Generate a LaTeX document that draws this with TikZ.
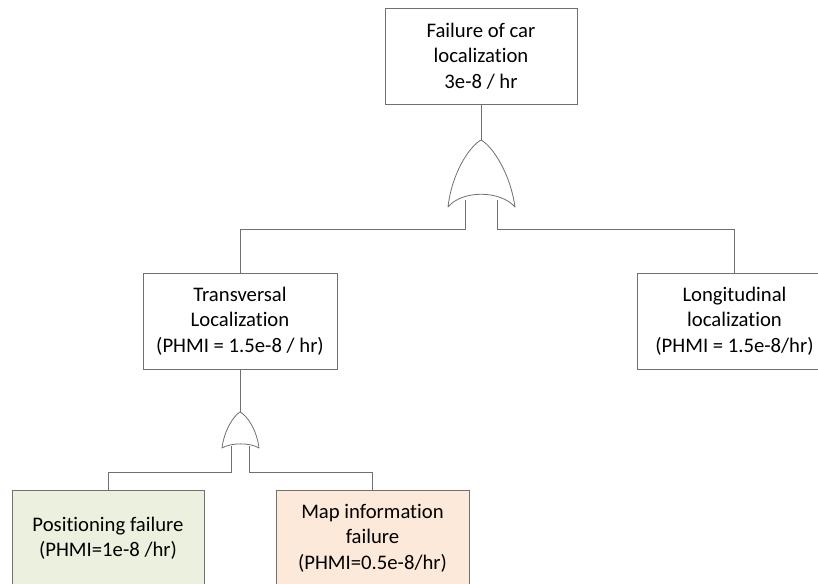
\documentclass[tikz,border=0pt]{standalone}
\usepackage{fontspec}
\setmainfont{Carlito}[Ligatures=NoCommon]
\definecolor{linegray}{RGB}{112,112,112}
\definecolor{posgreen}{HTML}{EBF1DE}
\definecolor{maporange}{HTML}{FDE9D9}
\begin{document}
\begin{tikzpicture}[x=1pt,y=-1pt,
  event/.style={draw=linegray, line width=0.8pt, fill=white, align=center,
    inner sep=0pt, minimum height=96pt,
    font=\fontsize{20.7}{25.5}\selectfont},
  wire/.style={draw=linegray, line width=0.8pt},
  gate/.style={draw=linegray, line width=0.8pt, fill=white, line join=round}]
\useasboundingbox (0,0) rectangle (818,583);

% events
\node[event, minimum width=192pt] (top) at (481,56) {Failure of car\\localization\\3e-8 / hr};
\node[event, minimum width=194pt] (trans) at (240,321) {Transversal\\Localization\\(PHMI = 1.5e-8 / hr)};
\node[event, minimum width=195pt] (longi) at (734.5,321) {Longitudinal\\localization\\(PHMI = 1.5e-8/hr)};
\node[event, minimum width=192pt, fill=posgreen] (pos) at (108,538) {Positioning failure\\(PHMI=1e-8 /hr)};
\node[event, minimum width=193pt, fill=maporange] (map) at (372.5,538) {Map information\\failure\\(PHMI=0.5e-8/hr)};

% gate terminals
\coordinate (g1tip) at (481,140);
\coordinate (g1l) at (465,200);
\coordinate (g1r) at (497,200);
\coordinate (g2tip) at (240,412);
\coordinate (g2l) at (231,446);
\coordinate (g2r) at (249,446);

% connectors
\draw[wire] (top.south) -- (g1tip);
\draw[wire] (g1l) -- ++(0,29) -| (trans.north);
\draw[wire] (g1r) -- ++(0,29) -| (longi.north);
\draw[wire] (trans.south) -- (g2tip);
\draw[wire] (g2l) -- ++(0,26) -| (pos.north);
\draw[wire] (g2r) -- ++(0,26) -| (map.north);

% OR gates
\path[gate] (g1tip) .. controls (470,146) and (452,172) .. (448,207)
  .. controls (462,190) and (500,190) .. (515,207)
  .. controls (510,172) and (492,146) .. (g1tip) -- cycle;
\path[gate] (g2tip) .. controls (234.3,415.2) and (224.3,429.3) .. (222,448)
  .. controls (231,442.5) and (250,442.5) .. (259,448)
  .. controls (256.7,429.3) and (246.7,415.2) .. (g2tip) -- cycle;
\end{tikzpicture}
\end{document}
